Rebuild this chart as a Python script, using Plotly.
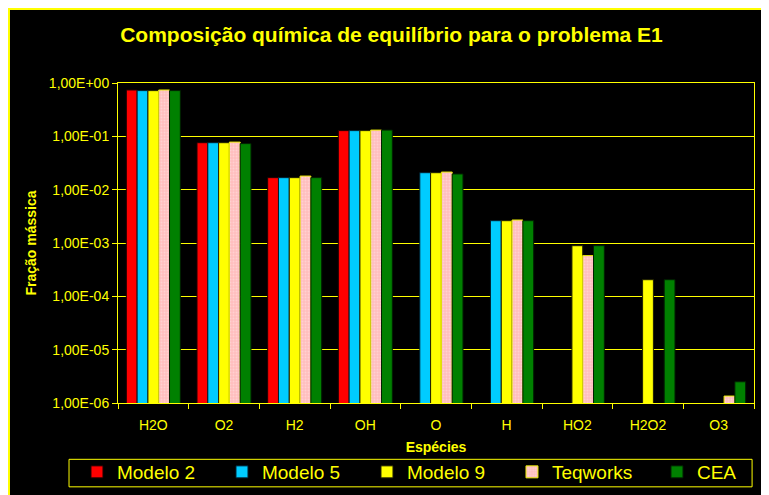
import plotly.graph_objects as go

# --- Data ---
especies = ['H2O', 'O2', 'H2', 'OH', 'O', 'H', 'HO2', 'H2O2', 'O3']
modelo_2 = [0.74, 0.076, 0.0168, 0.128, None, None, None, None, None]
modelo_5 = [0.72, 0.076, 0.0168, 0.128, 0.0208, 0.00262, None, None, None]
modelo_9 = [0.72, 0.076, 0.0168, 0.128, 0.0208, 0.00262, 0.00089, 0.000205, None]
teqworks = [0.74, 0.078, 0.018, 0.131, 0.0214, 0.0027, 0.00058, None, 1.35e-6]
cea = [0.72, 0.073, 0.0168, 0.131, 0.0197, 0.00262, 0.00089, 0.000205, 2.5e-6]

y_tickvals = [1e-6, 1e-5, 1e-4, 1e-3, 1e-2, 1e-1, 1e0]
y_ticktext = ['1,00E-06', '1,00E-05', '1,00E-04', '1,00E-03', '1,00E-02', '1,00E-01', '1,00E+00']

YEL = '#FFFF00'
FONT = 'Liberation Sans, Arial, sans-serif'

fig = go.Figure()

series = [
    ('Modelo 2', modelo_2, '#FF0000', '#200000'),
    ('Modelo 5', modelo_5, '#00CCFF', '#002030'),
    ('Modelo 9', modelo_9, '#FFFF00', '#202000'),
]
for name, vals, col, edge in series:
    fig.add_trace(go.Bar(
        x=especies, y=vals, name=name,
        marker=dict(color=col, line=dict(color=edge, width=1)),
    ))

fig.add_trace(go.Bar(
    x=especies, y=teqworks, name='Teqworks',
    marker=dict(color='#FFBDBD', line=dict(color='#E8E800', width=1),
                pattern=dict(shape='.', fgcolor='#FFE6E6', size=3, solidity=0.35)),
))

fig.add_trace(go.Bar(
    x=especies, y=cea, name='CEA', legendwidth=40,
    marker=dict(color='#008000', line=dict(color='#002000', width=1)),
))

# --- Layout ---
fig.update_layout(
    width=769, height=495,
    margin=dict(l=110, r=23, t=75, b=100),
    paper_bgcolor='#000000', plot_bgcolor='#000000',
    font=dict(family=FONT, color=YEL, size=14),
    barmode='group', bargap=0.236, bargroupgap=0,
    title=dict(text='<b>Composição química de equilíbrio para o problema E1</b>',
               x=0.4987, xanchor='center', y=0.947, yanchor='middle',
               font=dict(family=FONT, size=21, color=YEL)),
    legend=dict(orientation='h', x=-0.0645, xanchor='left', y=-0.275, yanchor='bottom',
                font=dict(family=FONT, size=19, color=YEL),
                entrywidth=100, entrywidthmode='pixels',
                bgcolor='rgba(0,0,0,0)', borderwidth=0),
    showlegend=True,
)

fig.update_xaxes(
    automargin=False,
    showline=True, linecolor=YEL, linewidth=1, mirror=True,
    ticks='outside', tickson='boundaries', ticklen=5, tickcolor=YEL,
    tickfont=dict(size=14, color=YEL), ticklabelstandoff=9,
    title=dict(text='<b>Espécies</b>', font=dict(size=14, color=YEL), standoff=10),
    showgrid=False,
)
fig.update_yaxes(
    automargin=False,
    type='log', range=[-6, 0],
    tickvals=y_tickvals, ticktext=y_ticktext,
    showline=True, linecolor=YEL, linewidth=1, mirror=True,
    ticks='outside', ticklen=5, tickcolor=YEL,
    tickfont=dict(size=14, color=YEL),
    showgrid=True, gridcolor=YEL, gridwidth=1,
    title=dict(text='<b>Fração mássica</b>', font=dict(size=14, color=YEL), standoff=8),
    zeroline=False,
)

# outer chart frame and legend box
fig.add_shape(type='rect', xref='paper', yref='paper',
              x0=-0.1714, x1=1.1, y0=-0.35, y1=1.231,
              line=dict(color=YEL, width=2))
fig.add_shape(type='rect', xref='paper', yref='paper',
              x0=-0.077, x1=0.997, y0=-0.262, y1=-0.176,
              line=dict(color=YEL, width=1))

fig.write_html('out.html')
